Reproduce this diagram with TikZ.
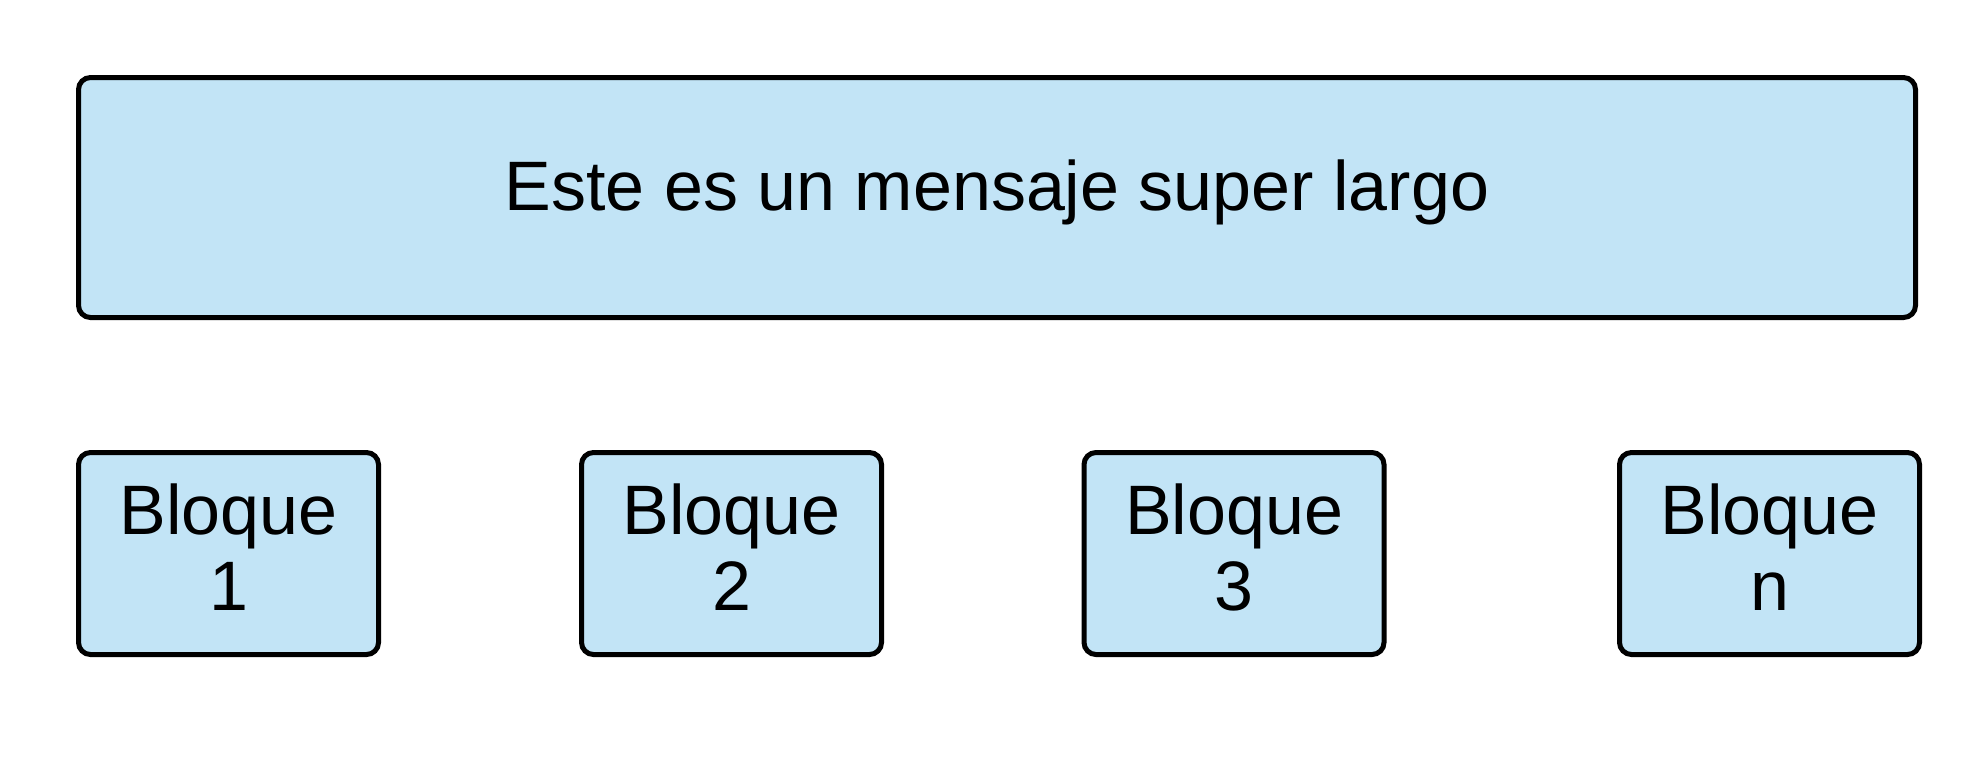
\documentclass[tikz,border=0pt]{standalone}
\usepackage{fontspec}
\setmainfont{Liberation Sans}
\usepackage{tikz}
\usetikzlibrary{positioning}
\definecolor{blockblue}{RGB}{194,228,246}

\begin{document}
\begin{tikzpicture}[x=1pt,y=-1pt,
    box/.style={draw=black,fill=blockblue,line width=5pt,rounded corners=12pt,
      inner sep=0pt,align=center,minimum height=202pt,minimum width=300pt,
      font=\fontsize{70}{76}\selectfont}]
  % Canvas in pixels of the original sketch.
  \useasboundingbox (0,0) rectangle (1986,756);

  % The long message.
  \node[box,minimum width=1837pt,minimum height=240pt] (msg) at (997,197.5) {};
  \node[font=\fontsize{70}{76}\selectfont,inner sep=0pt] (msgtext) at (997,192)
    {Este es un mensaje super largo};

  % The blocks it is split into.
  \foreach \x/\lab in {228.5/1,731.5/2,1234/3,1769.5/n}{
    \node[box,text height=0pt] (b\lab) at (\x,553.5) {};
    \node[font=\fontsize{70}{76}\selectfont,align=center,inner sep=0pt]
      (t\lab) at (\x,547) {Bloque\\\lab};
  }
\end{tikzpicture}
\end{document}
